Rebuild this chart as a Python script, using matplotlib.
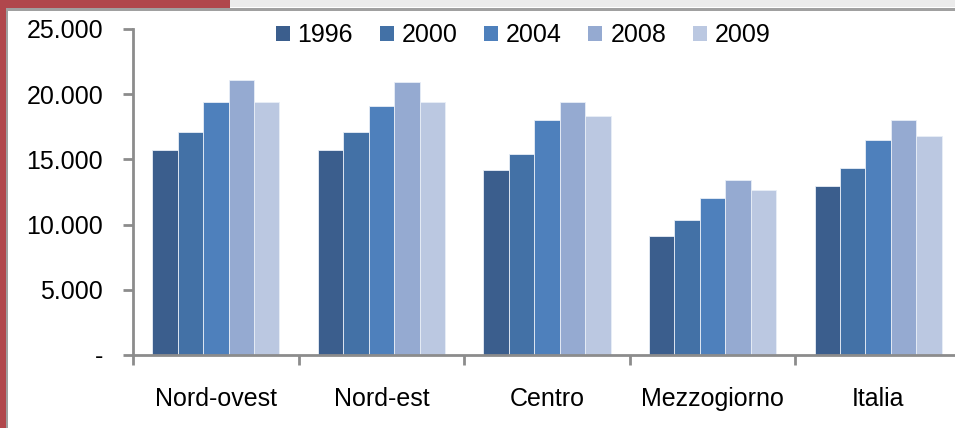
import matplotlib
matplotlib.use("Agg")
import matplotlib.pyplot as plt
from matplotlib.patches import Rectangle, Patch
import numpy as np

plt.rcParams['font.family'] = ['Liberation Sans', 'DejaVu Sans']

categories = ["Nord-ovest", "Nord-est", "Centro", "Mezzogiorno", "Italia"]
years = ["1996", "2000", "2004", "2008", "2009"]
v1996 = [15720, 15720, 14190, 9130, 12960]
v2000 = [17100, 17100, 15410, 10350, 14340]
v2004 = [19400, 19100, 18020, 12040, 16490]
v2008 = [21090, 20940, 19400, 13420, 18020]
v2009 = [19400, 19400, 18330, 12650, 16800]
series = [v1996, v2000, v2004, v2008, v2009]
colors = ["#3b5e8d", "#4371a6", "#4e80bc", "#95aad1", "#bbc8e1"]
yticks = [0, 5000, 10000, 15000, 20000, 25000]
ytick_labels = ["-", "5.000", "10.000", "15.000", "20.000", "25.000"]

W, H = 955, 428
FS = 18
fig = plt.figure(figsize=(W/100, H/100), dpi=100)
fig.patch.set_facecolor("white")

# frame decorations
fig.add_artist(Rectangle((230/W, 1-7/H), 1, 7/H, transform=fig.transFigure, color="#ebebeb", lw=0))
fig.add_artist(Rectangle((5/W, 1-11/H), 1, 3/H, transform=fig.transFigure, color="#a0a0a0", lw=0))
fig.add_artist(Rectangle((5/W, 0), 3/W, 1-8/H, transform=fig.transFigure, color="#a0a0a0", lw=0))
fig.add_artist(Rectangle((0, 0), 6/W, 1, transform=fig.transFigure, color="#b0474c", lw=0))
fig.add_artist(Rectangle((0, 1-8/H), 230/W, 8/H, transform=fig.transFigure, color="#b0474c", lw=0))

ax = fig.add_axes([133/W, (H-355)/H, 828/W, 326/H])
ax.set_facecolor("none")

n = len(series)
w = 1/6.5
x = np.arange(len(categories))
for i, (vals, c) in enumerate(zip(series, colors)):
    ax.bar(x + (i - (n-1)/2)*w, vals, width=w, color=c, edgecolor="#e8eef7", linewidth=0.6, label=years[i], zorder=2)

ax.set_xlim(-0.5, len(categories)-0.5)
ax.set_ylim(0, 25000)
ax.set_yticks(yticks)
ax.set_yticklabels(ytick_labels)
ax.set_xticks(x)
ax.set_xticklabels(categories)
ax.set_xticks(np.arange(-0.5, len(categories), 1.0), minor=True)

for s in ["top", "right"]:
    ax.spines[s].set_visible(False)
for s in ["left", "bottom"]:
    ax.spines[s].set_color("#8c8c8c")
    ax.spines[s].set_linewidth(2.0)

ax.tick_params(axis="y", length=7.5, width=2.0, color="#8c8c8c", pad=14, labelsize=FS, direction="out")
ax.tick_params(axis="x", which="major", length=0, pad=23, labelsize=FS)
ax.tick_params(axis="x", which="minor", length=7.5, width=2.0, color="#8c8c8c", direction="out")

handles = [Patch(facecolor=c, edgecolor="none") for c in colors]
fig.legend(handles, years, loc="center", bbox_to_anchor=(523/W, 1-35/H), ncol=5, frameon=False,
           fontsize=FS, handlelength=0.56, handleheight=0.56, handletextpad=0.32, columnspacing=1.06, borderpad=0)

fig.savefig("out.png", dpi=100)
